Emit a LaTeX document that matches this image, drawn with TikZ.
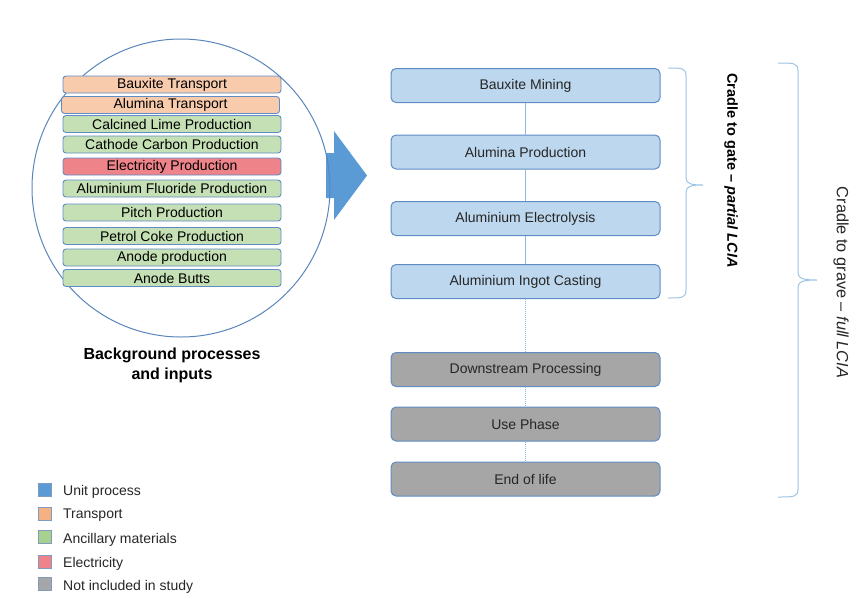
\documentclass[tikz,border=0pt]{standalone}
\usepackage{fontspec}
\setmainfont{Liberation Sans}
\usetikzlibrary{shapes.arrows}
\definecolor{bluefill}{HTML}{BDD7EE}
\definecolor{blueedge}{HTML}{5F8CC4}
\definecolor{greyfill}{HTML}{A6A6A6}
\definecolor{orangefill}{HTML}{F8CBAD}
\definecolor{greenfill}{HTML}{C5E0B4}
\definecolor{redfill}{HTML}{EE8389}
\definecolor{arrowblue}{HTML}{5B9BD5}
\definecolor{bracecol}{HTML}{9DC3E6}
\definecolor{linkcol}{HTML}{8DB8E2}
\definecolor{circlecol}{HTML}{5A86BC}
\definecolor{legorange}{HTML}{F4B183}
\definecolor{leggreen}{HTML}{A9D18E}
\definecolor{legred}{HTML}{F08389}
\definecolor{legedge}{HTML}{7F9CC0}
\tikzset{
  bgbox/.style={draw=blueedge, line width=0.9pt, rounded corners=3pt, minimum width=218pt, minimum height=17pt, inner sep=0pt, font=\fontsize{14}{16}\selectfont},
  procbox/.style={draw=blueedge, line width=1pt, rounded corners=5pt, minimum width=269pt, minimum height=34pt, inner sep=0pt, font=\fontsize{14}{16}\selectfont, text=black!85},
  unitbox/.style={procbox, fill=bluefill},
  greybox/.style={procbox, fill=greyfill},
  solidlink/.style={draw=linkcol, line width=0.8pt},
  dotlink/.style={draw=linkcol, line width=0.9pt, dash pattern=on 1pt off 1pt},
  bracestyle/.style={draw=bracecol, line width=1pt},
  legsq/.style={draw=legedge, line width=0.8pt, minimum size=13pt, inner sep=0pt},
  legtext/.style={anchor=west, inner sep=0pt, font=\fontsize{14}{16}\selectfont, text=black!85}
}
\begin{document}
\begin{tikzpicture}[x=1pt, y=-1pt]
\useasboundingbox (0,0) rectangle (860,598);
% block arrow
\fill[arrowblue] (326,153) -- (334,153) -- (334,131) -- (367,175.5) -- (334,220) -- (334,198) -- (326,198) -- cycle;
% circle
\node[draw=circlecol, line width=1pt, circle, minimum size=298pt, inner sep=0pt] (circ) at (181,188) {};
% background boxes
\node[bgbox, fill=orangefill] (b1) at (172,84.5) {Bauxite Transport};
\node[bgbox, fill=orangefill] (b2) at (170.5,105) {Alumina Transport};
\node[bgbox, fill=greenfill] (b3) at (172,124) {Calcined Lime Production};
\node[bgbox, fill=greenfill] (b4) at (172,144.5) {Cathode Carbon Production};
\node[bgbox, fill=redfill] (b5) at (172,166.5) {Electricity Production};
\node[bgbox, fill=greenfill] (b6) at (172,188.5) {Aluminium Fluoride Production};
\node[bgbox, fill=greenfill] (b7) at (172,212.5) {Pitch Production};
\node[bgbox, fill=greenfill] (b8) at (172,236) {Petrol Coke Production};
\node[bgbox, fill=greenfill] (b9) at (172,257.5) {Anode production};
\node[bgbox, fill=greenfill] (b10) at (172,278) {Anode Butts};
\node[align=center, font=\bfseries\fontsize{16}{19.5}\selectfont, inner sep=0pt] (bgtitle) at (172,365.5) {Background processes\\and inputs};
% process chain
\node[unitbox] (p1) at (525.5,85.5) {Bauxite Mining};
\node[unitbox] (p2) at (525.5,152) {Alumina Production};
\node[unitbox] (p3) at (525.5,218.5) {Aluminium Electrolysis};
\node[unitbox] (p4) at (525.5,281.5) {Aluminium Ingot Casting};
\node[greybox] (p5) at (525.5,369.5) {Downstream Processing};
\node[greybox] (p6) at (525.5,424) {Use Phase};
\node[greybox] (p7) at (525.5,479) {End of life};
\draw[solidlink] (p1) -- (p2);
\draw[solidlink] (p2) -- (p3);
\draw[solidlink] (p3) -- (p4);
\draw[dotlink] (p4) -- (p5);
\draw[dotlink] (p5) -- (p6);
\draw[dotlink] (p6) -- (p7);
% brace 1
\draw[bracestyle] (668,68) .. controls (682,68) and (686,68) .. (686,76) -- (686,178) .. controls (686,184) and (692,185) .. (703,185) .. controls (692,185) and (686,186) .. (686,192) -- (686,290) .. controls (686,298) and (682,298) .. (668,298);
\node[rotate=-90, font=\bfseries\fontsize{14.5}{16}\selectfont, inner sep=0pt] (gate) at (731,170.5) {Cradle to gate -- \textit{partial LCIA}};
% brace 2
\draw[bracestyle] (778,63) .. controls (794,63) and (798,63) .. (798,71) -- (798,273) .. controls (798,279) and (805,280) .. (817,280) .. controls (805,280) and (798,281) .. (798,287) -- (798,489) .. controls (798,497) and (794,497) .. (778,497);
\node[rotate=-90, font=\fontsize{16.3}{18}\selectfont, inner sep=0pt, text=black!85] (grave) at (841,282.5) {Cradle to grave -- \textit{full LCIA}};
% legend
\node[legsq, fill=arrowblue] (l1) at (45,489.5) {};
\node[legsq, fill=legorange] (l2) at (45,513.5) {};
\node[legsq, fill=leggreen] (l3) at (45,537) {};
\node[legsq, fill=legred] (l4) at (45,561.5) {};
\node[legsq, fill=greyfill] (l5) at (45,584) {};
\node[legtext] (t1) at (63,491.5) {Unit process};
\node[legtext] (t2) at (63,515.5) {Transport};
\node[legtext] (t3) at (63,539.5) {Ancillary materials};
\node[legtext] (t4) at (63,563.5) {Electricity};
\node[legtext] (t5) at (63,587) {Not included in study};
\end{tikzpicture}
\end{document}
